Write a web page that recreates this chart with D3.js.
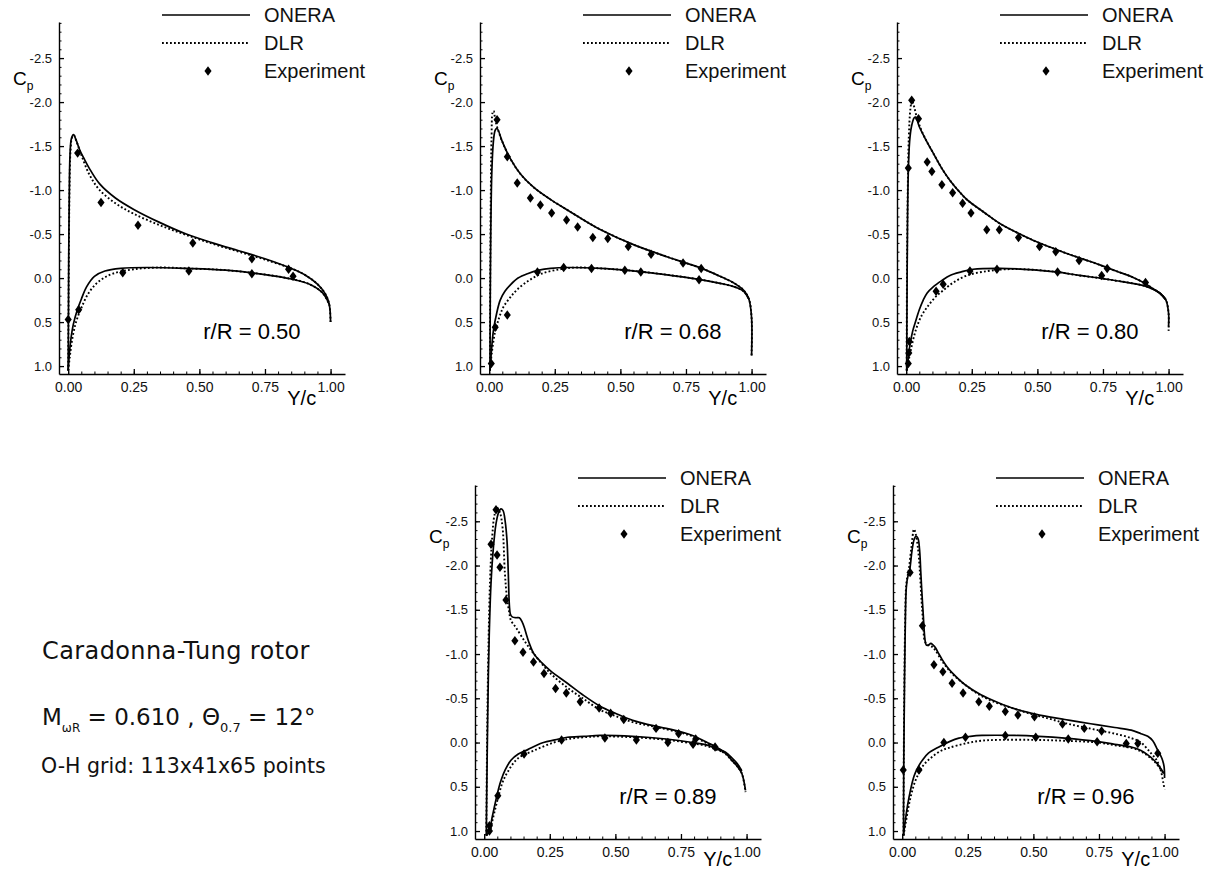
<!DOCTYPE html>
<html>
<head>
<meta charset="utf-8">
<script src="https://cdn.jsdelivr.net/npm/d3@7"></script>
<style>
  body { margin: 0; background: #fff; }
  svg { display: block; font-family: "Liberation Sans", Arial, sans-serif; }
</style>
</head>
<body>
<script>
// ---- data: [Y/c, Cp] ----
const stationLabels = ["0.50", "0.68", "0.80", "0.89", "0.96"];
const seriesNames = ["ONERA", "DLR", "Experiment"];
const xTickValues = [0, 0.25, 0.5, 0.75, 1];
const yTickValues = [-2.5, -2, -1.5, -1, -0.5, 0, 0.5, 1];

// r/R = 0.50
const p50OneraUpper = [[0.000, 1.05], [0.001, 0.5], [0.002, -0.2], [0.004, -0.9], [0.007, -1.4], [0.012, -1.58], [0.02, -1.63], [0.03, -1.57], [0.045, -1.45], [0.06, -1.36], [0.08, -1.25], [0.12, -1.07], [0.18, -0.91], [0.25, -0.78], [0.35, -0.63], [0.45, -0.5], [0.55, -0.4], [0.65, -0.31], [0.75, -0.22], [0.85, -0.11], [0.9, -0.04], [0.95, 0.07], [0.98, 0.18], [0.995, 0.3], [1.0, 0.5]];
const p50OneraLower = [[0.000, 1.05], [0.004, 0.88], [0.01, 0.7], [0.02, 0.52], [0.035, 0.36], [0.05, 0.24], [0.07, 0.1], [0.1, -0.02], [0.14, -0.08], [0.2, -0.11], [0.3, -0.12], [0.45, -0.11], [0.6, -0.09], [0.75, -0.04], [0.85, 0.01], [0.92, 0.07], [0.97, 0.17], [0.995, 0.3]];
const p50DlrUpper = [[0.000, 1.05], [0.002, 0.0], [0.005, -1.0], [0.009, -1.45], [0.015, -1.6], [0.022, -1.62], [0.032, -1.55], [0.05, -1.4], [0.08, -1.18], [0.12, -1.0], [0.18, -0.85], [0.25, -0.73], [0.35, -0.6], [0.45, -0.49], [0.55, -0.39], [0.65, -0.3], [0.75, -0.21], [0.85, -0.11], [0.9, -0.04], [0.95, 0.07], [0.98, 0.18], [0.995, 0.3], [1.0, 0.5]];
const p50DlrLower = [[0.000, 1.05], [0.006, 0.9], [0.015, 0.7], [0.03, 0.5], [0.05, 0.34], [0.08, 0.16], [0.12, 0.03], [0.17, -0.05], [0.25, -0.1], [0.35, -0.12], [0.45, -0.11], [0.6, -0.09], [0.75, -0.04], [0.85, 0.01], [0.92, 0.07], [0.97, 0.17], [0.995, 0.3]];
const p50Exp = [[0.0, 0.47], [0.04, 0.36], [0.036, -1.42], [0.125, -0.86], [0.266, -0.6], [0.475, -0.4], [0.70, -0.22], [0.84, -0.10], [0.857, -0.02], [0.208, -0.06], [0.46, -0.08], [0.70, -0.05]];

// r/R = 0.68
const p68OneraUpper = [[0.003, 1.05], [0.004, 0.3], [0.006, -0.5], [0.01, -1.2], [0.016, -1.55], [0.023, -1.68], [0.03, -1.7], [0.05, -1.55], [0.08, -1.36], [0.12, -1.18], [0.17, -1.03], [0.23, -0.9], [0.3, -0.77], [0.36, -0.66], [0.425, -0.55], [0.55, -0.38], [0.68, -0.24], [0.81, -0.11], [0.88, -0.02], [0.935, 0.06], [0.97, 0.14], [0.99, 0.24], [1.0, 0.45], [1.0, 0.88]];
const p68OneraLower = [[0.003, 1.05], [0.008, 0.85], [0.016, 0.6], [0.03, 0.38], [0.042, 0.25], [0.06, 0.15], [0.08, 0.08], [0.11, 0.0], [0.146, -0.05], [0.19, -0.09], [0.234, -0.11], [0.3, -0.12], [0.425, -0.11], [0.52, -0.09], [0.617, -0.06], [0.72, -0.02], [0.81, 0.02], [0.88, 0.06], [0.935, 0.1], [0.97, 0.15], [0.99, 0.24]];
const p68DlrUpper = [[0.003, 1.05], [0.004, 0.0], [0.006, -0.9], [0.009, -1.6], [0.013, -1.88], [0.017, -1.9], [0.023, -1.8], [0.03, -1.72], [0.05, -1.55], [0.08, -1.36], [0.12, -1.18], [0.17, -1.03], [0.23, -0.9], [0.3, -0.77], [0.36, -0.66], [0.425, -0.55], [0.55, -0.38], [0.68, -0.24], [0.81, -0.11], [0.88, -0.02], [0.935, 0.06], [0.97, 0.14], [0.99, 0.24], [1.0, 0.45], [1.0, 0.88]];
const p68DlrLower = [[0.003, 1.05], [0.01, 0.85], [0.022, 0.62], [0.038, 0.45], [0.054, 0.33], [0.08, 0.22], [0.107, 0.13], [0.15, 0.03], [0.2, -0.05], [0.27, -0.1], [0.33, -0.12], [0.425, -0.11], [0.52, -0.09], [0.617, -0.06], [0.72, -0.02], [0.81, 0.02], [0.88, 0.06], [0.935, 0.1], [0.97, 0.15], [0.99, 0.24]];
const p68Exp = [[0.008, 0.97], [0.023, 0.56], [0.069, 0.42], [0.03, -1.8], [0.069, -1.38], [0.107, -1.08], [0.157, -0.91], [0.195, -0.83], [0.238, -0.74], [0.295, -0.66], [0.337, -0.58], [0.395, -0.46], [0.452, -0.45], [0.53, -0.36], [0.617, -0.27], [0.739, -0.17], [0.808, -0.11], [0.184, -0.07], [0.284, -0.12], [0.39, -0.11], [0.517, -0.09], [0.578, -0.07], [0.8, 0.02]];

// r/R = 0.80
const p80OneraUpper = [[0.002, 1.05], [0.003, 0.3], [0.005, -0.6], [0.008, -1.2], [0.013, -1.55], [0.02, -1.72], [0.03, -1.82], [0.036, -1.83], [0.05, -1.72], [0.07, -1.6], [0.103, -1.42], [0.135, -1.25], [0.167, -1.11], [0.2, -0.99], [0.232, -0.89], [0.3, -0.74], [0.357, -0.62], [0.42, -0.52], [0.483, -0.43], [0.55, -0.35], [0.612, -0.28], [0.68, -0.21], [0.738, -0.15], [0.8, -0.08], [0.863, -0.01], [0.91, 0.06], [0.94, 0.12], [0.97, 0.18], [0.99, 0.25], [1.0, 0.4], [1.0, 0.55]];
const p80OneraLower = [[0.002, 1.05], [0.008, 0.9], [0.015, 0.75], [0.025, 0.6], [0.034, 0.51], [0.05, 0.36], [0.065, 0.25], [0.08, 0.17], [0.103, 0.1], [0.135, 0.03], [0.167, -0.03], [0.21, -0.07], [0.255, -0.1], [0.357, -0.11], [0.45, -0.1], [0.573, -0.07], [0.66, -0.03], [0.738, 0.0], [0.8, 0.03], [0.863, 0.06], [0.92, 0.1], [0.966, 0.17], [0.99, 0.25]];
const p80DlrUpper = [[0.002, 1.05], [0.003, 0.0], [0.006, -1.0], [0.01, -1.6], [0.016, -1.92], [0.022, -2.02], [0.03, -1.95], [0.04, -1.83], [0.05, -1.74], [0.07, -1.6], [0.103, -1.42], [0.135, -1.25], [0.167, -1.11], [0.2, -0.99], [0.232, -0.89], [0.3, -0.74], [0.357, -0.62], [0.42, -0.52], [0.483, -0.43], [0.55, -0.35], [0.612, -0.28], [0.68, -0.21], [0.738, -0.15], [0.8, -0.08], [0.863, -0.01], [0.91, 0.06], [0.94, 0.12], [0.97, 0.18], [0.99, 0.25], [1.0, 0.4], [1.0, 0.6]];
const p80DlrLower = [[0.002, 1.05], [0.012, 0.9], [0.025, 0.72], [0.04, 0.56], [0.06, 0.42], [0.08, 0.33], [0.11, 0.22], [0.141, 0.14], [0.18, 0.05], [0.232, -0.03], [0.31, -0.08], [0.38, -0.1], [0.45, -0.1], [0.573, -0.07], [0.66, -0.03], [0.738, 0.0], [0.8, 0.03], [0.863, 0.06], [0.92, 0.1], [0.966, 0.17], [0.99, 0.25]];
const p80Exp = [[0.008, 0.97], [0.01, 0.85], [0.012, 0.72], [0.008, -1.25], [0.021, -2.02], [0.047, -1.81], [0.08, -1.32], [0.098, -1.21], [0.136, -1.06], [0.177, -0.97], [0.215, -0.85], [0.247, -0.74], [0.307, -0.55], [0.355, -0.55], [0.428, -0.46], [0.508, -0.36], [0.57, -0.3], [0.659, -0.2], [0.766, -0.11], [0.912, 0.05], [0.114, 0.15], [0.141, 0.07], [0.243, -0.08], [0.346, -0.1], [0.577, -0.07], [0.745, -0.03]];

// r/R = 0.89
const p89OneraUpper = [[0.008, 1.05], [0.01, 0.5], [0.013, -0.2], [0.016, -0.78], [0.02, -1.3], [0.026, -1.8], [0.035, -2.2], [0.045, -2.47], [0.055, -2.6], [0.064, -2.64], [0.072, -2.62], [0.08, -2.5], [0.087, -2.28], [0.092, -1.9], [0.096, -1.55], [0.1, -1.45], [0.107, -1.42], [0.12, -1.41], [0.134, -1.41], [0.145, -1.36], [0.153, -1.3], [0.163, -1.2], [0.172, -1.12], [0.19, -1.0], [0.22, -0.9], [0.253, -0.81], [0.317, -0.67], [0.38, -0.53], [0.442, -0.41], [0.5, -0.33], [0.566, -0.25], [0.63, -0.2], [0.694, -0.16], [0.75, -0.12], [0.794, -0.08], [0.85, 0.0], [0.883, 0.05], [0.92, 0.12], [0.943, 0.2], [0.965, 0.27], [0.982, 0.35], [0.996, 0.54]];
const p89OneraLower = [[0.008, 1.05], [0.02, 1.0], [0.03, 0.85], [0.038, 0.74], [0.05, 0.58], [0.064, 0.43], [0.08, 0.31], [0.102, 0.2], [0.13, 0.13], [0.166, 0.08], [0.2, 0.03], [0.226, 0.0], [0.27, -0.03], [0.317, -0.06], [0.38, -0.07], [0.442, -0.08], [0.566, -0.07], [0.694, -0.04], [0.794, 0.0], [0.85, 0.03], [0.883, 0.07], [0.92, 0.11], [0.943, 0.17], [0.965, 0.24], [0.982, 0.32]];
const p89DlrUpper = [[0.008, 1.05], [0.01, 0.3], [0.013, -0.5], [0.017, -1.2], [0.022, -1.8], [0.03, -2.3], [0.04, -2.58], [0.05, -2.65], [0.06, -2.6], [0.07, -2.43], [0.079, -1.91], [0.087, -1.63], [0.095, -1.48], [0.102, -1.38], [0.121, -1.3], [0.153, -1.15], [0.19, -1.0], [0.253, -0.78], [0.317, -0.62], [0.38, -0.49], [0.442, -0.37], [0.5, -0.3], [0.566, -0.23], [0.63, -0.19], [0.694, -0.15], [0.75, -0.11], [0.794, -0.07], [0.85, 0.01], [0.883, 0.06], [0.92, 0.13], [0.943, 0.2], [0.965, 0.27], [0.982, 0.35], [0.996, 0.56]];
const p89DlrLower = [[0.008, 1.05], [0.022, 1.0], [0.033, 0.86], [0.043, 0.74], [0.055, 0.6], [0.07, 0.45], [0.09, 0.33], [0.128, 0.18], [0.19, 0.09], [0.265, 0.0], [0.32, -0.04], [0.38, -0.06], [0.442, -0.07], [0.566, -0.06], [0.694, -0.03], [0.794, 0.01], [0.85, 0.04], [0.883, 0.08], [0.92, 0.12], [0.943, 0.18], [0.965, 0.25], [0.982, 0.33]];
const p89Exp = [[0.026, -2.24], [0.045, -2.63], [0.049, -2.12], [0.06, -1.98], [0.083, -1.61], [0.117, -1.15], [0.148, -1.02], [0.188, -0.91], [0.228, -0.78], [0.272, -0.61], [0.313, -0.56], [0.366, -0.46], [0.438, -0.39], [0.482, -0.33], [0.532, -0.26], [0.655, -0.16], [0.741, -0.1], [0.806, -0.04], [0.02, 0.94], [0.02, 1.0], [0.052, 0.6], [0.152, 0.13], [0.295, -0.03], [0.46, -0.05], [0.58, -0.03], [0.7, 0.0], [0.796, 0.02], [0.88, 0.05]];

// r/R = 0.96
const p96OneraUpper = [[0.005, 1.05], [0.006, 0.3], [0.008, -0.41], [0.011, -1.16], [0.016, -1.76], [0.022, -1.88], [0.027, -1.92], [0.038, -2.18], [0.046, -2.3], [0.052, -2.33], [0.058, -2.32], [0.062, -2.29], [0.067, -2.15], [0.071, -1.92], [0.076, -1.65], [0.08, -1.46], [0.087, -1.16], [0.092, -1.1], [0.1, -1.1], [0.109, -1.12], [0.118, -1.1], [0.127, -1.07], [0.14, -1.0], [0.152, -0.94], [0.17, -0.86], [0.19, -0.79], [0.241, -0.65], [0.3, -0.54], [0.367, -0.45], [0.43, -0.38], [0.494, -0.33], [0.56, -0.29], [0.62, -0.26], [0.68, -0.23], [0.746, -0.2], [0.81, -0.17], [0.873, -0.14], [0.91, -0.1], [0.936, -0.07], [0.955, -0.02], [0.973, 0.08], [0.99, 0.18], [0.998, 0.27], [1.0, 0.4]];
const p96OneraLower = [[0.005, 1.05], [0.012, 0.88], [0.02, 0.72], [0.03, 0.56], [0.045, 0.38], [0.06, 0.28], [0.077, 0.2], [0.1, 0.12], [0.14, 0.05], [0.18, -0.01], [0.216, -0.05], [0.26, -0.07], [0.304, -0.08], [0.43, -0.08], [0.52, -0.07], [0.62, -0.05], [0.746, -0.01], [0.81, 0.02], [0.873, 0.05], [0.91, 0.09], [0.936, 0.14], [0.96, 0.2], [0.98, 0.27], [0.998, 0.35]];
const p96DlrUpper = [[0.005, 1.05], [0.006, 0.2], [0.008, -0.6], [0.011, -1.3], [0.016, -1.8], [0.025, -1.95], [0.035, -2.2], [0.045, -2.41], [0.052, -2.35], [0.06, -2.2], [0.067, -1.95], [0.074, -1.6], [0.08, -1.35], [0.087, -1.14], [0.1, -1.1], [0.115, -1.08], [0.127, -1.04], [0.152, -0.92], [0.19, -0.78], [0.241, -0.65], [0.3, -0.53], [0.367, -0.44], [0.43, -0.38], [0.494, -0.32], [0.56, -0.27], [0.62, -0.22], [0.68, -0.18], [0.746, -0.14], [0.81, -0.1], [0.873, -0.05], [0.91, 0.0], [0.948, 0.12], [0.97, 0.2], [0.985, 0.31], [0.995, 0.45], [1.0, 0.53]];
const p96DlrLower = [[0.005, 1.05], [0.014, 0.9], [0.024, 0.73], [0.036, 0.57], [0.052, 0.42], [0.08, 0.26], [0.115, 0.16], [0.15, 0.09], [0.178, 0.06], [0.241, 0.01], [0.3, -0.02], [0.367, -0.03], [0.5, -0.03], [0.62, -0.02], [0.746, 0.0], [0.81, 0.03], [0.873, 0.06], [0.91, 0.1], [0.936, 0.15], [0.96, 0.21], [0.98, 0.28], [0.998, 0.36]];
const p96Exp = [[0.004, 0.31], [0.03, -1.92], [0.077, -1.32], [0.121, -0.88], [0.155, -0.8], [0.19, -0.67], [0.232, -0.56], [0.292, -0.46], [0.332, -0.41], [0.393, -0.35], [0.441, -0.31], [0.504, -0.29], [0.611, -0.21], [0.694, -0.16], [0.76, -0.13], [0.898, 0.01], [0.064, 0.31], [0.159, 0.0], [0.241, -0.06], [0.393, -0.08], [0.509, -0.06], [0.633, -0.04], [0.743, -0.01], [0.854, 0.01], [0.974, 0.12]];

// ---- layout ----
const W = 1214, H = 872;
const panelBoxes = [
    { left: 59, top: 22, height: 352, cpY: 63, ycY: 31 },
    { left: 480, top: 22, height: 352, cpY: 63, ycY: 31 },
    { left: 897, top: 22, height: 352, cpY: 63, ycY: 31 },
    { left: 475, top: 485, height: 354, cpY: 58, ycY: 27 },
    { left: 893, top: 485, height: 354, cpY: 58, ycY: 27 }
];
const panelWidth = 286;

const panels = [
    { station: stationLabels[0], onera: [p50OneraUpper, p50OneraLower], dlr: [p50DlrUpper, p50DlrLower], exp: p50Exp },
    { station: stationLabels[1], onera: [p68OneraUpper, p68OneraLower], dlr: [p68DlrUpper, p68DlrLower], exp: p68Exp },
    { station: stationLabels[2], onera: [p80OneraUpper, p80OneraLower], dlr: [p80DlrUpper, p80DlrLower], exp: p80Exp },
    { station: stationLabels[3], onera: [p89OneraUpper, p89OneraLower], dlr: [p89DlrUpper, p89DlrLower], exp: p89Exp },
    { station: stationLabels[4], onera: [p96OneraUpper, p96OneraLower], dlr: [p96DlrUpper, p96DlrLower], exp: p96Exp }
];

const dotted = "1.8 2.2";
const diamond = d3.symbol().type(d3.symbolDiamond).size(26);

const svg = d3.select("body").append("svg")
    .attr("width", W)
    .attr("height", H);

const drawPanel = (p, box) => {
    const g = svg.append("g")
        .attr("transform", "translate(" + box.left + "," + box.top + ")");

    const xScale = d3.scaleLinear().domain([-0.035, 1.055]).range([0, panelWidth]);
    const yScale = d3.scaleLinear().domain([-2.91, 1.09]).range([0, box.height]);

    //minor ticks
    g.append("g")
        .call(d3.axisLeft(yScale).tickValues(d3.range(-29, 11).map(v => v / 10)).tickSize(-2.5).tickFormat(""))
        .call(a => a.select(".domain").remove())
        .selectAll("line").attr("stroke-width", 1);
    g.append("g")
        .attr("transform", "translate(0," + box.height + ")")
        .call(d3.axisBottom(xScale).tickValues(d3.range(0, 21).map(v => v / 20)).tickSize(-2.5).tickFormat(""))
        .call(a => a.select(".domain").remove())
        .selectAll("line").attr("stroke-width", 1);

    //Axis y
    const yAxis = g.append("g")
        .call(d3.axisLeft(yScale).tickValues(yTickValues).tickSize(-5).tickSizeOuter(0).tickPadding(7)
            .tickFormat(d => d.toFixed(1)));
    yAxis.select(".domain").attr("stroke-width", 1.4);
    yAxis.selectAll("line").attr("stroke-width", 1.3);
    yAxis.selectAll("text").attr("font-size", 13).attr("font-family", "Liberation Sans, Arial, sans-serif").attr("fill", "#111");

    //Axis x
    const xAxis = g.append("g")
        .attr("transform", "translate(0," + box.height + ")")
        .call(d3.axisBottom(xScale).tickValues(xTickValues).tickSize(-5).tickSizeOuter(0).tickPadding(8)
            .tickFormat(d => d.toFixed(2)));
    xAxis.select(".domain").attr("stroke-width", 1.4);
    xAxis.selectAll("line").attr("stroke-width", 1.3);
    xAxis.selectAll("text").attr("font-size", 14).attr("font-family", "Liberation Sans, Arial, sans-serif").attr("fill", "#111");

    g.append("text")
        .attr("x", xScale(0.89))
        .attr("y", box.height + box.ycY)
        .attr("text-anchor", "middle")
        .attr("font-size", 20)
        .text("Y/c");

    const cp = g.append("text")
        .attr("x", -46)
        .attr("y", box.cpY)
        .attr("font-size", 19)
        .text("C");
    cp.append("tspan").attr("font-size", 12).attr("dy", 5).text("p");

    //Curves
    const line = d3.line()
        .x(d => xScale(d[0]))
        .y(d => yScale(d[1]))
        .curve(d3.curveCatmullRom.alpha(0.5));

    g.selectAll(".dlr")
        .data(p.dlr)
        .enter()
        .append("path")
        .attr("d", line)
        .attr("fill", "none")
        .attr("stroke", "#000")
        .attr("stroke-width", 1.9)
        .attr("stroke-dasharray", dotted);

    g.selectAll(".onera")
        .data(p.onera)
        .enter()
        .append("path")
        .attr("d", line)
        .attr("fill", "none")
        .attr("stroke", "#000")
        .attr("stroke-width", 1.7);

    g.selectAll(".exp")
        .data(p.exp)
        .enter()
        .append("path")
        .attr("d", diamond)
        .attr("transform", d => "translate(" + xScale(d[0]) + "," + yScale(d[1]) + ") scale(1.3,1)")
        .attr("fill", "#000");

    g.append("text")
        .attr("x", xScale(0.515))
        .attr("y", yScale(0.69))
        .attr("font-size", 22)
        .text("r/R = " + p.station);

    //Legend
    const legend = g.append("g")
        .attr("transform", "translate(0,-7)");
    seriesNames.forEach((name, i) => {
        const y = i * 28;
        if (i < 2) {
            legend.append("line")
                .attr("x1", 103).attr("x2", 191)
                .attr("y1", y).attr("y2", y)
                .attr("stroke", "#000")
                .attr("stroke-width", i === 1 ? 1.9 : 1.7)
                .attr("stroke-dasharray", i === 1 ? dotted : null);
        } else {
            legend.append("path")
                .attr("d", diamond)
                .attr("transform", "translate(149," + y + ") scale(1.3,1)");
        }
        legend.append("text")
            .attr("x", 205)
            .attr("y", y + 7)
            .attr("font-size", 20)
            .attr("fill", "#111")
            .text(name);
    });
};

panels.forEach((p, i) => drawPanel(p, panelBoxes[i]));

//Notes
const notes = svg.append("g")
    .attr("font-family", "DejaVu Sans, sans-serif")
    .attr("fill", "#111")
    .style("white-space", "pre");
notes.append("text")
    .attr("x", 42).attr("y", 659)
    .attr("font-size", 24)
    .attr("letter-spacing", 0.4)
    .text("Caradonna-Tung rotor");
const mach = notes.append("text")
    .attr("x", 42).attr("y", 725)
    .attr("font-size", 23);
mach.append("tspan").text("M");
mach.append("tspan").attr("font-size", 12).attr("dy", 7).text("ωR");
mach.append("tspan").attr("dy", -7).text(" = 0.610 ,  Θ");
mach.append("tspan").attr("font-size", 13).attr("dy", 7).text("0.7");
mach.append("tspan").attr("dy", -7).text(" = 12°");
notes.append("text")
    .attr("x", 41).attr("y", 773)
    .attr("font-size", 20.5)
    .text("O-H grid:  113x41x65 points");
</script>
</body>
</html>
